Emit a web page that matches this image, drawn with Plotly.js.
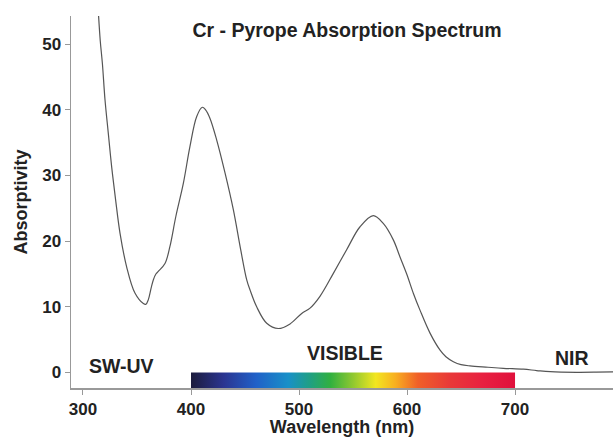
<!DOCTYPE html>
<html>
<head>
<meta charset="utf-8">
<script src="https://cdn.plot.ly/plotly-3.0.1.min.js"></script>
<style>html,body{margin:0;padding:0;background:#fff;}#chart{width:613px;height:437px;}</style>
</head>
<body>
<div id="chart"></div>
<script>
// Wavelength (nm) and absorptivity
const wavelength = [314, 316, 318, 320.4, 323.4, 326.5, 330.2, 334.3, 340.4, 348.1, 355.9, 358.3, 360.5, 363, 365.1, 367.5, 369.7, 375.9, 380.5, 386, 392.9, 399, 405.3, 410.5, 413.5, 417.6, 423.8, 431.5, 439.2, 446, 451.6, 454.6, 460.8, 470.1, 480.8, 491.7, 502.5, 510.2, 519.4, 531.8, 544.1, 556.5, 568.8, 578, 587.3, 593.5, 599.7, 606, 612, 621.3, 630.6, 636, 642.9, 650, 658.3, 675, 689.2, 707.7, 720, 732.7, 757, 775, 791];
const absorptivity = [55.5, 50.5, 47, 41.5, 36.5, 31.4, 26.3, 21.2, 16.1, 12.1, 10.5, 10.4, 11.1, 12.8, 14.1, 15.0, 15.4, 16.6, 19.2, 23.8, 28.8, 34.4, 39.0, 40.4, 40.0, 38.7, 35.4, 30.4, 24.8, 18.7, 14.1, 12.6, 10.0, 7.5, 6.7, 7.4, 9.0, 9.8, 11.6, 15.1, 18.7, 22.2, 23.9, 22.7, 20.2, 17.6, 15.0, 12.0, 9.5, 6.0, 3.4, 2.4, 1.65, 1.2, 1.0, 0.8, 0.64, 0.5, 0.3, 0.12, 0.03, 0.05, 0.1];

// Visible band
const visibleRange = [400, 700];
const bandColorStops = [0, 0.1, 0.2, 0.3, 0.37, 0.43, 0.5, 0.57, 0.63, 0.7, 0.8, 0.9, 1];
const bandColors = ['#1c1c3c', '#2a3490', '#2060c8', '#1890c8', '#20a080', '#30b040', '#90c830', '#f2e620', '#f8b020', '#f06028', '#e83838', '#e82040', '#e0103c'];

const xTicks = [300, 400, 500, 600, 700];
const yTicks = [0, 10, 20, 30, 40, 50];

const labels = [
  {text: 'SW-UV', x: 336, y: 1.0},
  {text: 'VISIBLE', x: 543, y: 3.0},
  {text: 'NIR', x: 753, y: 2.2}
];

const font = 'Liberation Sans, Arial, sans-serif';

const traces = [
  {
    type: 'scatter', mode: 'lines',
    x: [visibleRange[0], visibleRange[1], visibleRange[1], visibleRange[0], visibleRange[0]],
    y: [0, 0, -2.6, -2.6, 0],
    fill: 'toself',
    fillgradient: {type: 'horizontal', colorscale: bandColorStops.map((s, i) => [s, bandColors[i]])},
    line: {width: 0},
    hoverinfo: 'skip', showlegend: false
  },
  {
    type: 'scatter', mode: 'lines',
    x: wavelength, y: absorptivity,
    line: {color: '#555', width: 1.2, shape: 'spline', smoothing: 1},
    showlegend: false
  }
];

const layout = {
  width: 613, height: 437,
  margin: {l: 71, r: 0, t: 16, b: 49},
  paper_bgcolor: '#fff', plot_bgcolor: '#fff',
  showlegend: false,
  font: {family: font, color: '#222'},
  title: {text: 'Cr - Pyrope Absorption Spectrum', x: 0.566, xanchor: 'center', y: 0.93, yanchor: 'middle',
          font: {family: font, size: 19.5, color: '#222', weight: 'bold'}},
  xaxis: {
    range: [288.9, 790.7], tickvals: xTicks, ticktext: xTicks.map(String),
    showgrid: false, zeroline: false, showline: true, linecolor: '#999', linewidth: 1.5,
    ticks: 'outside', ticklen: 5, tickcolor: '#999', tickwidth: 1,
    tickfont: {family: font, size: 17, color: '#222', weight: 'bold'},
    title: {text: 'Wavelength (nm)', standoff: 8, font: {family: font, size: 18, color: '#222', weight: 'bold'}},
    automargin: false
  },
  yaxis: {
    range: [-2.36, 54.3], tickvals: yTicks, ticktext: yTicks.map(String),
    showgrid: false, zeroline: false, showline: true, linecolor: '#999', linewidth: 1.5,
    ticks: 'outside', ticklen: 5, tickcolor: '#999', tickwidth: 1,
    tickfont: {family: font, size: 17, color: '#222', weight: 'bold'},
    title: {text: 'Absorptivity', standoff: 10, font: {family: font, size: 18, color: '#222', weight: 'bold'}},
    automargin: false
  },
  annotations: labels.map(l => ({
    text: l.text, x: l.x, y: l.y, xref: 'x', yref: 'y', showarrow: false,
    font: {family: font, size: 19.5, color: '#222', weight: 'bold'}
  }))
};

Plotly.newPlot('chart', traces, layout, {displayModeBar: false, staticPlot: true});
</script>
</body>
</html>
